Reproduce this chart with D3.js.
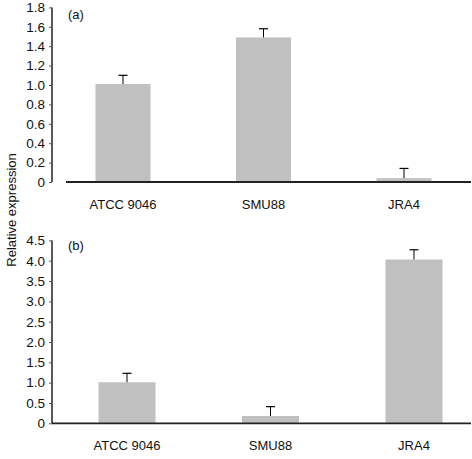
<!DOCTYPE html>
<html><head><meta charset="utf-8">
<script src="https://cdn.jsdelivr.net/npm/d3@7"></script>
<style>body{margin:0;background:#fff}svg{display:block}text{font-family:"Liberation Sans",Arial,sans-serif}</style>
</head><body>
<svg id="c" width="472" height="459"></svg>
<script>
const categories = ["ATCC 9046", "SMU88", "JRA4"];
const valuesA = [1.01, 1.49, 0.04];
const errorsA = [0.09, 0.09, 0.10];
const valuesB = [1.01, 0.18, 4.03];
const errorsB = [0.22, 0.23, 0.24];
const ticksA = [0, 0.2, 0.4, 0.6, 0.8, 1.0, 1.2, 1.4, 1.6, 1.8];
const ticksB = [0, 0.5, 1.0, 1.5, 2.0, 2.5, 3.0, 3.5, 4.0, 4.5];
const panelLabels = ["(a)", "(b)"];
const yTitle = "Relative expression";

const svg = d3.select("#c");
const axisX = 52;

function panel(cfg) {
  const y = d3.scaleLinear().domain([0, cfg.max]).range([cfg.y0, cfg.y1]);
  const x = d3.scalePoint().domain(categories).range(cfg.xr);
  const g = svg.append("g");
  // bars
  g.selectAll("rect.bar").data(cfg.values).join("rect")
    .attr("x", (d, i) => x(categories[i]) - cfg.bw / 2)
    .attr("width", cfg.bw)
    .attr("y", d => y(d))
    .attr("height", d => y(0) - y(d))
    .attr("fill", "#c0c0c0");
  // error bars
  cfg.values.forEach((v, i) => {
    const cx = x(categories[i]);
    g.append("line").attr("x1", cx).attr("x2", cx)
      .attr("y1", y(v)).attr("y2", y(v + cfg.errors[i]))
      .attr("stroke", "#000").attr("stroke-width", 1);
    g.append("line").attr("x1", cx - 4.5).attr("x2", cx + 4.5)
      .attr("y1", y(v + cfg.errors[i])).attr("y2", y(v + cfg.errors[i]))
      .attr("stroke", "#000").attr("stroke-width", 1.2);
  });
  // baseline
  g.append("line").attr("x1", cfg.baseStart).attr("x2", 471)
    .attr("y1", y(0)).attr("y2", y(0))
    .attr("stroke", "#222").attr("stroke-width", 1.8);
  // y axis
  const ax = g.append("g").attr("transform", `translate(${axisX},0)`)
    .call(d3.axisLeft(y).tickValues(cfg.ticks).tickSize(3).tickPadding(4)
      .tickFormat(d => d === 0 ? "0" : d3.format(".1f")(d)));
  ax.select(".domain").attr("stroke", "#000").attr("stroke-width", 1.3)
    .attr("d", `M0,${y(0)}V${y(cfg.max)}`);
  ax.selectAll(".tick line").attr("stroke", "#555");
  ax.selectAll(".tick text").attr("font-size", 13.5).attr("fill", "#111")
    .attr("font-family", "'Liberation Sans', Arial, sans-serif");
  // category labels
  g.selectAll("text.cat").data(categories).join("text")
    .attr("x", d => x(d)).attr("y", y(0) + 27)
    .attr("text-anchor", "middle").attr("font-size", 13).attr("fill", "#111")
    .text(d => d);
  // panel label
  g.append("text").attr("x", 68).attr("y", cfg.labelY)
    .attr("font-size", 13).attr("fill", "#111").text(cfg.label);
}

panel({values: valuesA, errors: errorsA, ticks: ticksA, max: 1.8,
  y0: 182, y1: 7.4, xr: [123, 404], bw: 55, baseStart: 66,
  label: panelLabels[0], labelY: 19});
panel({values: valuesB, errors: errorsB, ticks: ticksB, max: 4.5,
  y0: 423.3, y1: 240.4, xr: [127, 414], bw: 57, baseStart: 52,
  label: panelLabels[1], labelY: 250});

svg.append("text").attr("transform", "translate(16,210) rotate(-90)")
  .attr("text-anchor", "middle").attr("font-size", 13).attr("fill", "#111")
  .text(yTitle);
</script>
</body></html>
